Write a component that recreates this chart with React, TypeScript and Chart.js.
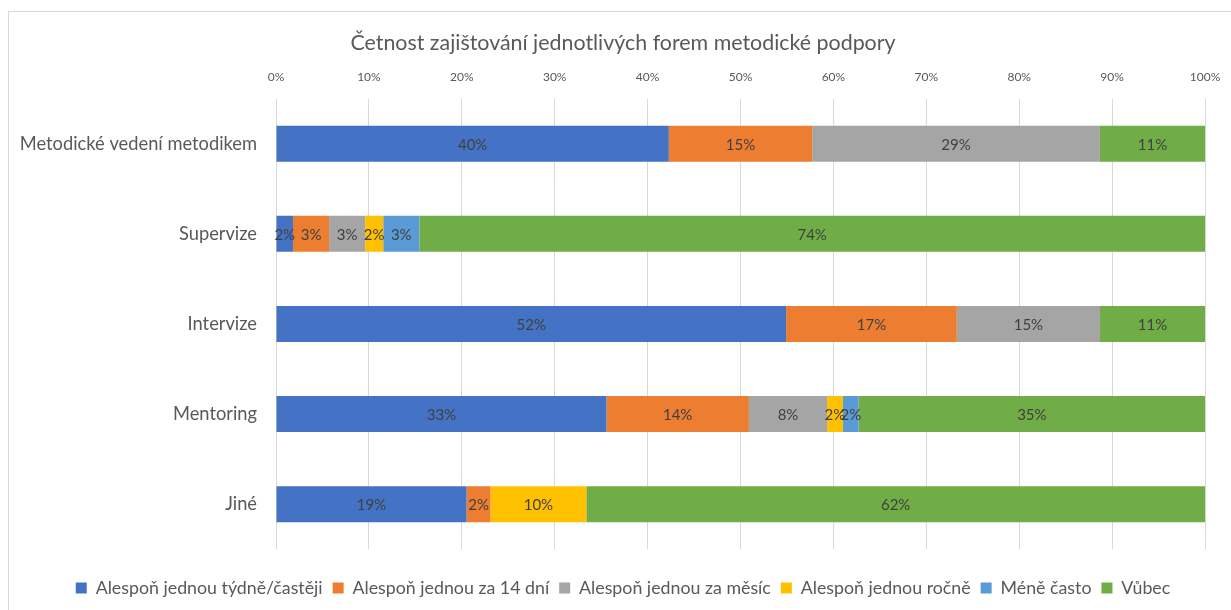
import React, { useEffect, useRef } from "react";
import { Chart, registerables } from "chart.js";

Chart.register(...registerables);

const categories = [
  "Metodické vedení metodikem",
  "Supervize",
  "Intervize",
  "Mentoring",
  "Jiné",
];

const seriesNames = [
  "Alespoň jednou týdně/častěji",
  "Alespoň jednou za 14 dní",
  "Alespoň jednou za měsíc",
  "Alespoň jednou ročně",
  "Méně často",
  "Vůbec",
];

// raw shares of respondents (%), as labelled in the reference
const weekly = [40.0, 1.6, 52.0, 33.4, 19.1];
const biweekly = [14.6, 3.4, 17.4, 14.4, 2.4];
const monthly = [29.3, 3.4, 14.6, 7.9, 0];
const yearly = [0, 1.7, 0, 1.6, 9.6];
const lessOften = [0, 3.4, 0, 1.6, 0];
const never = [10.7, 74.0, 10.7, 35.0, 62.0];

const xTicks = [0, 10, 20, 30, 40, 50, 60, 70, 80, 90, 100];

const colors = ["#4472C4", "#ED7D31", "#A5A5A5", "#FFC000", "#5B9BD5", "#70AD47"];

const FONT = "Lato, 'Open Sans', sans-serif";

const labelPlugin = {
  id: "segLabels",
  afterDatasetsDraw(chart: any) {
    const ctx = chart.ctx;
    ctx.save();
    ctx.font = `15px ${FONT}`;
    ctx.fillStyle = "#404040";
    ctx.textAlign = "center";
    ctx.textBaseline = "middle";
    chart.data.datasets.forEach((ds: any, di: number) => {
      const meta = chart.getDatasetMeta(di);
      meta.data.forEach((el: any, i: number) => {
        const raw = ds.rawValues[i];
        if (!raw) return;
        const x = (el.x + el.base) / 2;
        ctx.fillText(`${Math.round(raw)}%`, x, el.y + 1);
      });
    });
    ctx.restore();
  },
};

export default function App() {
  const ref = useRef<HTMLCanvasElement | null>(null);

  useEffect(() => {
    if (!ref.current) return;
    const rawSeries = [weekly, biweekly, monthly, yearly, lessOften, never];
    const totals = categories.map((_, i) =>
      rawSeries.reduce((s, arr) => s + arr[i], 0)
    );
    const datasets = rawSeries.map((arr, k) => ({
      label: seriesNames[k],
      data: arr.map((v, i) => (v / totals[i]) * 100),
      rawValues: arr,
      backgroundColor: colors[k],
      borderWidth: 0,
      categoryPercentage: 1,
      barPercentage: 0.4,
      xAxisID: "x",
      yAxisID: "y",
    }));

    const spacer = (pos: string, size: number, horizontal: boolean) => ({
      type: "linear",
      position: pos,
      display: true,
      ticks: { display: false },
      grid: { display: false, drawTicks: false },
      border: { display: false },
      afterFit(scale: any) {
        if (horizontal) scale.height = size;
        else scale.width = size;
      },
    });

    const chart = new Chart(ref.current, {
      type: "bar",
      data: { labels: categories, datasets: datasets as any },
      plugins: [labelPlugin],
      options: {
        indexAxis: "y",
        animation: false,
        responsive: false,
        maintainAspectRatio: false,
        layout: { padding: { left: 0, right: 0, top: 0, bottom: 14 } },
        plugins: {
          tooltip: { enabled: false },
          title: {
            display: true,
            text: "Četnost zajištování jednotlivých forem metodické podpory",
            color: "#595959",
            font: { family: FONT, size: 21.4, weight: "normal" },
            padding: { top: 19, bottom: 0 },
          },
          legend: {
            position: "bottom",
            labels: {
              color: "#595959",
              font: { family: FONT, size: 17.8 },
              boxWidth: 11,
              boxHeight: 11,
              padding: 10,
            },
          },
        },
        scales: {
          x: {
            position: "top",
            stacked: true,
            min: 0,
            max: 100,
            afterBuildTicks(scale: any) {
              scale.ticks = xTicks.map((v) => ({ value: v }));
            },
            afterFit(scale: any) {
              scale.height = 43;
            },
            ticks: {
              color: "#595959",
              font: { family: FONT, size: 12 },
              padding: 14,
              callback: (v: any) => `${v}%`,
            },
            grid: { color: "#d9d9d9", drawTicks: false, lineWidth: 1 },
            border: { display: false },
          },
          y: {
            stacked: true,
            afterFit(scale: any) {
              scale.width = 268;
            },
            ticks: {
              color: "#595959",
              font: { family: FONT, size: 18.3 },
              padding: 19,
            },
            grid: { display: false, drawTicks: false },
            border: { display: false },
          },
          x2: spacer("bottom", 20, true),
          y2: spacer("right", 33, false),
        } as any,
      },
    });
    return () => chart.destroy();
  }, []);

  return (
    <div style={{ position: "fixed", inset: 0, overflow: "hidden", background: "#fff" }}>
      <div
        style={{
          position: "absolute",
          left: 8,
          top: 11,
          width: 1230,
          height: 610,
          border: "1px solid #d9d9d9",
          boxSizing: "border-box",
        }}
      >
        <canvas
          ref={ref}
          width={1230}
          height={610}
          style={{ position: "absolute", left: -1, top: -1 }}
        />
      </div>
    </div>
  );
}
